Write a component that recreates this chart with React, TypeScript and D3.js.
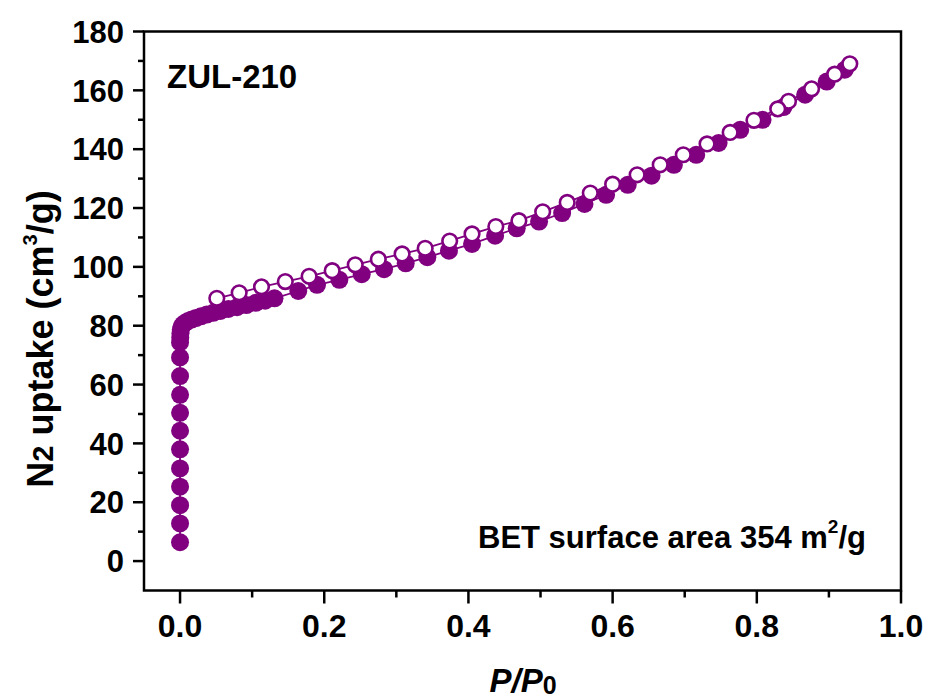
import React from "react";
import * as d3 from "d3";

// Adsorption branch (filled)
const adsP = [
  0, 0, 0, 0, 0, 0, 0, 0, 0, 0, 0, 0,
  0.0003, 0.0006, 0.001, 0.002, 0.004, 0.007, 0.011, 0.016, 0.022, 0.029, 0.037, 0.046,
  0.056, 0.067, 0.079, 0.092, 0.105, 0.118, 0.131, 0.164, 0.19, 0.221, 0.252, 0.283,
  0.313, 0.343, 0.373, 0.405, 0.437, 0.467, 0.498, 0.53, 0.561, 0.591, 0.621, 0.654,
  0.685, 0.716, 0.747, 0.777, 0.808, 0.837, 0.867, 0.897, 0.922,
];
const adsV = [
  6.4, 12.8, 19.0, 25.3, 31.5, 38.0, 44.3, 50.4, 56.5, 62.9, 69.2, 74.3,
  76.0, 77.4, 78.6, 79.6, 80.4, 81.0, 81.6, 82.1, 82.6, 83.2, 83.8, 84.4,
  85.0, 85.7, 86.3, 87.0, 87.8, 88.5, 89.3, 91.8, 93.9, 95.6, 97.5, 99.2,
  101.2, 103.3, 105.5, 107.8, 110.6, 113.1, 115.4, 118.3, 121.4, 124.5, 127.9, 131.0,
  134.7, 138.1, 142.1, 146.6, 150.0, 154.3, 158.5, 163.0, 167.0,
];

// Desorption branch (open)
const desP = [
  0.929, 0.908, 0.876, 0.844, 0.829, 0.796, 0.763, 0.731, 0.698, 0.666, 0.634, 0.6,
  0.569, 0.537, 0.503, 0.47, 0.438, 0.405, 0.374, 0.34, 0.308, 0.275, 0.243, 0.211,
  0.179, 0.146, 0.113, 0.082, 0.051,
];
const desV = [
  169.0, 165.5, 160.5, 156.3, 153.7, 149.8, 145.7, 141.8, 138.1, 134.7, 131.3, 128.1,
  125.1, 121.9, 118.7, 115.7, 113.7, 111.2, 108.8, 106.3, 104.4, 102.6, 100.7, 98.7,
  96.8, 95.0, 93.2, 91.2, 89.3,
];

const xMajor = [0, 0.2, 0.4, 0.6, 0.8, 1.0];
const xMinor = [0.1, 0.3, 0.5, 0.7, 0.9];
const yMajor = [0, 20, 40, 60, 80, 100, 120, 140, 160, 180];
const yMinor = [10, 30, 50, 70, 90, 110, 130, 150, 170];

const W = 927;
const H = 700;
const L = 144, R = 901, T = 31.5, B = 590.5;
const PURPLE = "#800080";
const FONT = "'Liberation Sans', Arial, Helvetica, sans-serif";

export default function App() {
  const x = d3.scaleLinear().domain([-0.05, 1.0]).range([L, R]);
  const y = d3.scaleLinear().domain([-10, 180]).range([B, T]);

  const ads = adsP.map((p, i) => [p, adsV[i]] as [number, number]);
  const des = desP.map((p, i) => [p, desV[i]] as [number, number]);
  const line = d3
    .line<[number, number]>()
    .x((d) => x(d[0]))
    .y((d) => y(d[1]));

  return (
    <svg
      width={W}
      height={H}
      style={{ position: "absolute", left: 0, top: 0, background: "#fff" }}
      fontFamily={FONT}
    >
      <rect x={0} y={0} width={W} height={H} fill="#fff" />
      {/* data lines */}
      <path d={line(ads) || ""} fill="none" stroke={PURPLE} strokeWidth={1.8} />
      <path d={line(des) || ""} fill="none" stroke={PURPLE} strokeWidth={1.8} />
      {ads.map((d, i) => (
        <circle key={"a" + i} cx={x(d[0])} cy={y(d[1])} r={9} fill={PURPLE} />
      ))}
      {des.map((d, i) => (
        <circle
          key={"d" + i}
          cx={x(d[0])}
          cy={y(d[1])}
          r={7.3}
          fill="#fff"
          stroke={PURPLE}
          strokeWidth={2.6}
        />
      ))}

      {/* frame */}
      <rect x={L} y={T} width={R - L} height={B - T} fill="none" stroke="#000" strokeWidth={2.5} />

      {/* y ticks */}
      {yMajor.map((v) => (
        <g key={"ym" + v}>
          <line x1={L - 11} x2={L} y1={y(v)} y2={y(v)} stroke="#000" strokeWidth={2.5} />
          <text
            x={124}
            y={y(v)}
            dy="0.36em"
            textAnchor="end"
            fontSize={31}
            fontWeight="bold"
          >
            {v}
          </text>
        </g>
      ))}
      {yMinor.map((v) => (
        <line key={"yn" + v} x1={L - 6} x2={L} y1={y(v)} y2={y(v)} stroke="#000" strokeWidth={2.5} />
      ))}

      {/* x ticks */}
      {xMajor.map((v) => (
        <g key={"xm" + v}>
          <line x1={x(v)} x2={x(v)} y1={B} y2={B + 13} stroke="#000" strokeWidth={2.5} />
          <text x={x(v)} y={637} textAnchor="middle" fontSize={32} fontWeight="bold">
            {v.toFixed(1)}
          </text>
        </g>
      ))}
      {xMinor.map((v) => (
        <line key={"xn" + v} x1={x(v)} x2={x(v)} y1={B} y2={B + 7} stroke="#000" strokeWidth={2.5} />
      ))}

      {/* axis titles */}
      <text
        transform={`translate(53, 339) rotate(-90)`}
        textAnchor="middle"
        fontSize={36}
        fontWeight="bold"
      >
        N<tspan fontSize={29}>2</tspan> uptake (cm
        <tspan fontSize={20} dy={-16}>3</tspan>
        <tspan dy={16}>/g)</tspan>
      </text>
      <text x={523} y={692} textAnchor="middle" fontSize={33} fontWeight="bold">
        <tspan fontStyle="italic">P</tspan>
        <tspan fontStyle="italic">/</tspan>
        <tspan fontStyle="italic">P</tspan>
        <tspan fontSize={25} dy={2}>0</tspan>
      </text>

      {/* annotations */}
      <text x={167} y={88} fontSize={33} fontWeight="bold">
        ZUL-210
      </text>
      <text x={478} y={548} fontSize={31} fontWeight="bold">
        BET surface area 354 m<tspan fontSize={19} dy={-15}>2</tspan>
        <tspan dy={15}>/g</tspan>
      </text>
    </svg>
  );
}
